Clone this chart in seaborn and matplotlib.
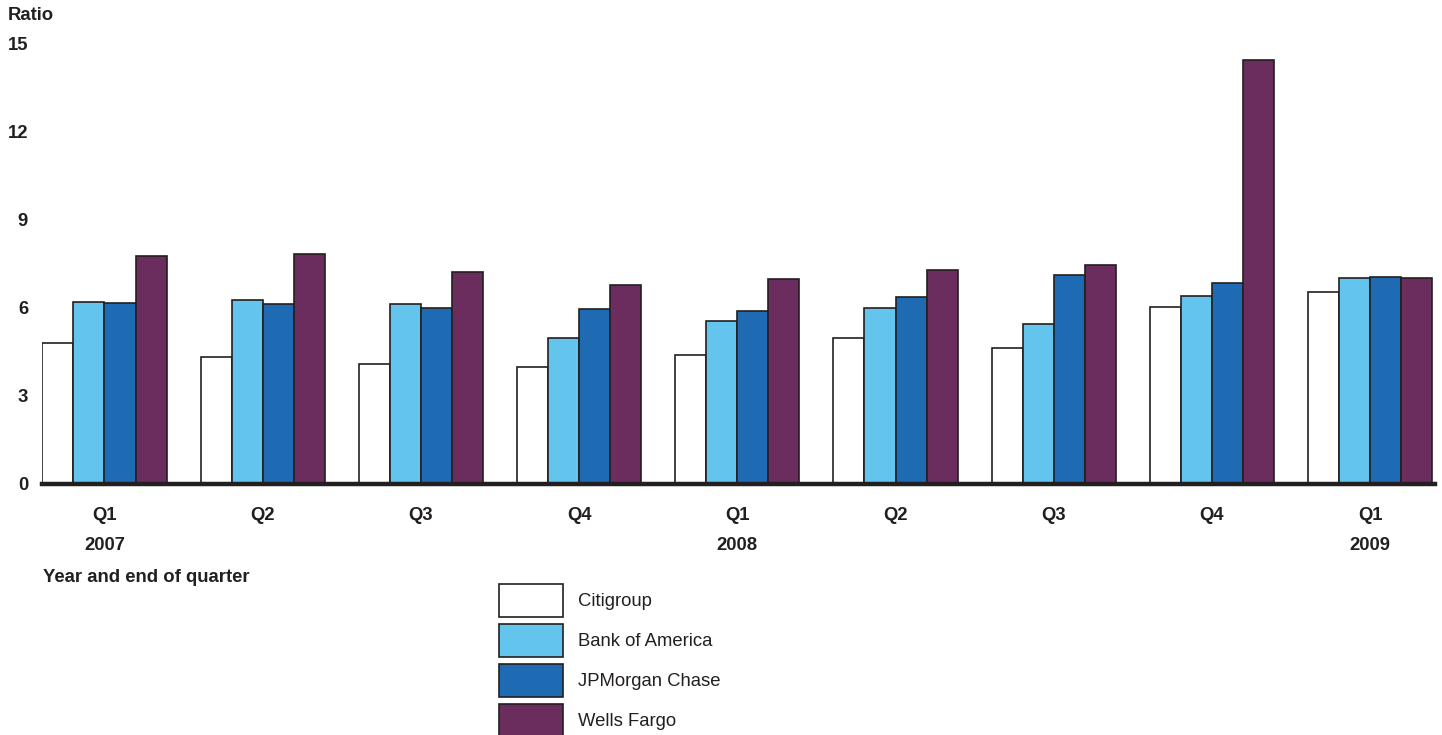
import matplotlib
matplotlib.use("Agg")
import matplotlib.pyplot as plt
import matplotlib.transforms as mtransforms
import seaborn as sns
import pandas as pd

periods = ["Q1 2007", "Q2 2007", "Q3 2007", "Q4 2007",
           "Q1 2008", "Q2 2008", "Q3 2008", "Q4 2008", "Q1 2009"]
quarter_labels = ["Q1", "Q2", "Q3", "Q4", "Q1", "Q2", "Q3", "Q4", "Q1"]
year_labels = {0: "2007", 4: "2008", 8: "2009"}
banks = ["Citigroup", "Bank of America", "JPMorgan Chase", "Wells Fargo"]

citigroup = [4.80, 4.33, 4.08, 4.00, 4.40, 4.99, 4.65, 6.03, 6.55]
bank_of_america = [6.20, 6.27, 6.15, 4.99, 5.55, 6.01, 5.45, 6.40, 7.02]
jpmorgan_chase = [6.18, 6.13, 6.00, 5.97, 5.91, 6.38, 7.13, 6.86, 7.07]
wells_fargo = [7.77, 7.84, 7.23, 6.77, 6.99, 7.30, 7.48, 14.45, 7.03]

colors = ["#ffffff", "#63c5ee", "#1f6bb3", "#6b2c5e"]

rows = []
for bank, vals in zip(banks, [citigroup, bank_of_america, jpmorgan_chase, wells_fargo]):
    for p, v in zip(periods, vals):
        rows.append({"period": p, "bank": bank, "ratio": v})
df = pd.DataFrame(rows)

sns.set_theme(style="white")
plt.rcParams["font.family"] = ["Liberation Sans", "DejaVu Sans"]

FS = 13.3
TXT = "#231f20"

fig = plt.figure(figsize=(14.42, 7.35), dpi=100)
ax = fig.add_axes([42 / 1442, 1 - 484 / 735, (1435 - 42) / 1442, (484 - 44) / 735])

sns.barplot(data=df, x="period", y="ratio", hue="bank", order=periods,
            hue_order=banks, palette=colors, saturation=1, width=0.785,
            edgecolor=TXT, linewidth=1.2, ax=ax, errorbar=None, legend=True)

ax.set_ylim(0, 15)
ax.set_xlim(-0.395, 8.41)
ax.set_yticks([0, 3, 6, 9, 12, 15])
ax.set_yticklabels(["0", "3", "6", "9", "12", "15"], fontsize=FS,
                   fontweight="bold", color=TXT)
ax.set_xticks(range(len(periods)))
ax.set_xticklabels(quarter_labels, fontsize=FS, fontweight="bold", color=TXT)
ax.tick_params(axis="x", length=0, pad=16.5)
ax.tick_params(axis="y", length=0, pad=10)
ax.set_xlabel("")
ax.set_ylabel("")

for s in ["top", "right", "left"]:
    ax.spines[s].set_visible(False)
ax.spines["bottom"].set_linewidth(3.2)
ax.spines["bottom"].set_color(TXT)
ax.spines["bottom"].set_zorder(5)

trans = mtransforms.blended_transform_factory(ax.transData, fig.transFigure)
for i, yl in year_labels.items():
    ax.text(i, 1 - 546 / 735, yl, transform=trans, ha="center", va="center",
            fontsize=FS, fontweight="bold", color=TXT)

fig.text(8 / 1442, 1 - 15 / 735, "Ratio", ha="left", va="center",
         fontsize=FS, fontweight="bold", color=TXT)
fig.text(43 / 1442, 1 - 577 / 735, "Year and end of quarter", ha="left", va="center",
         fontsize=FS, fontweight="bold", color=TXT)

handles, labels = ax.get_legend_handles_labels()
ax.get_legend().remove()
leg = fig.legend(handles, labels, loc="upper left",
                 bbox_to_anchor=(497 / 1442, 1 - 582 / 735), frameon=False,
                 fontsize=FS, handlelength=3.46, handleheight=2.4,
                 labelspacing=0.36, handletextpad=0.8, borderaxespad=0,
                 borderpad=0.1)
for t in leg.get_texts():
    t.set_color(TXT)

fig.savefig("out.png", dpi=100)
